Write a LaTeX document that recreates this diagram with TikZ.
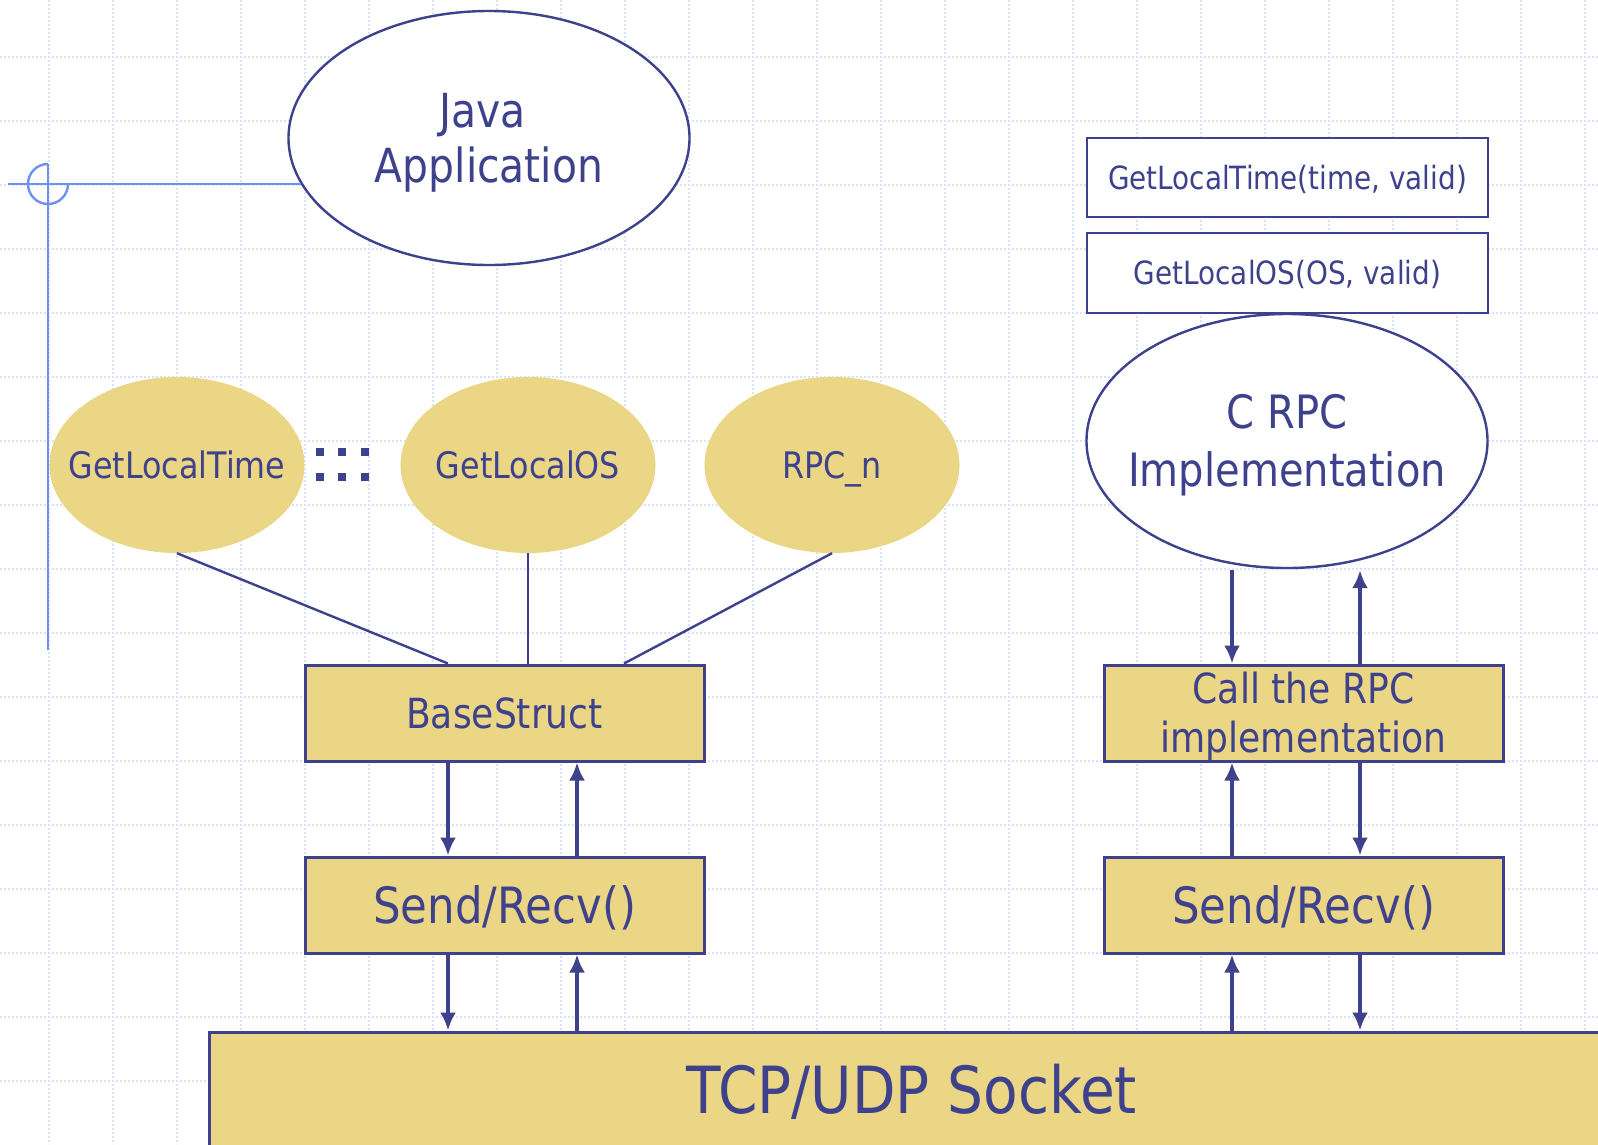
\documentclass[tikz,border=0pt]{standalone}
\usepackage{fontspec}
\setmainfont{DejaVu Sans}[FakeStretch=0.87]
\usetikzlibrary{shapes.geometric,arrows.meta}

\definecolor{ink}{RGB}{62,66,140}
\definecolor{sand}{RGB}{234,214,132}
\definecolor{gridblue}{RGB}{216,226,252}
\definecolor{guide}{RGB}{112,144,240}

\tikzset{
  gridline/.style={draw=gridblue, line width=2pt, dash pattern=on 2pt off 2pt},
  % font size, baseline skip and height above the last baseline
  ts/.style n args={3}{font=\fontsize{#1}{#2}\selectfont, text height=#3},
  txt/.style={text=ink, text depth=0pt, align=center, inner sep=0pt},
  whiteoval/.style={ellipse, draw=ink, line width=2.4pt, fill=white,
                    minimum width=401pt, minimum height=254pt, inner sep=0pt},
  sandoval/.style={ellipse, fill=sand, minimum width=255pt, minimum height=176pt, inner sep=0pt},
  panel/.style={txt, rectangle, draw=ink, line width=3pt, fill=sand,
                minimum width=399pt, minimum height=96pt},
  sigbox/.style={txt, rectangle, draw=ink, line width=2.5pt, fill=white,
                 minimum width=401pt, ts={32}{38}{23.4pt}},
  link/.style={draw=ink, line width=2.4pt},
  flow/.style={draw=ink, line width=3.5pt, -{Latex[length=18pt,width=16pt]}},
  guideline/.style={draw=guide, line width=2.4pt},
}

\begin{document}
\begin{tikzpicture}[x=1pt,y=-1pt]
\useasboundingbox (0,0) rectangle (1598,1144);
\fill[white] (0,0) rectangle (1598,1144);

% background grid
\foreach \gx in {0,...,24} \draw[gridline] ({49+64*\gx},0) -- ({49+64*\gx},1144);
\foreach \gy in {0,...,16} \draw[gridline] (0,{57+64*\gy}) -- (1598,{57+64*\gy});

% client side
\node[whiteoval] (java) at (489,138) {};
\node[txt, ts={47}{55}{89.3pt}] (javaText) at (java.center)
  {Java\hspace*{13pt}\\Application};

\node[sandoval] (glt)  at (177,465) {};
\node[sandoval] (glos) at (528,465) {};
\node[sandoval] (rpcn) at (832,465) {};
\node[txt, ts={36.5}{44}{26.6pt}] (gltText)  at (glt.center)  {GetLocalTime};
\node[txt, ts={36.5}{44}{26.6pt}] (glosText) at (glos.center) {GetLocalOS};
\node[txt, ts={36.5}{44}{26.6pt}] (rpcnText) at (rpcn.center) {RPC\_n};

% ellipsis marks between the stubs
\foreach \dx in {316,338,361}
  \foreach \dy in {448,473}
    \fill[ink] (\dx,\dy) rectangle ++(8,8);

\node[panel, ts={41.5}{48}{30.3pt}] (base)  at (504.5,713) {BaseStruct};
\node[panel, ts={50}{58}{36.5pt}]   (sendL) at (504.5,905) {Send/Recv()};

% server side
\node[sigbox, minimum height=79pt] (sig1) at (1287.5,177.5) {GetLocalTime(time, valid)};
\node[sigbox, minimum height=80pt] (sig2) at (1287.5,273) {GetLocalOS(OS, valid)};
\node[whiteoval] (crpc) at (1287,441) {};
\node[txt, ts={46}{58}{91.6pt}] (crpcText) at (crpc.center)
  {C RPC\\Implementation};

\node[panel, ts={41.5}{49}{79.3pt}] (call) at (1303.5,713)
  {Call the RPC\\implementation};
\node[panel, ts={50}{58}{36.5pt}] (sendR) at (1303.5,905) {Send/Recv()};

% transport layer
\node[txt, rectangle, draw=ink, line width=3pt, fill=sand,
      minimum width=1406pt, minimum height=116pt,
      ts={65}{72}{47.4pt}] (tcp) at (912,1090) {TCP/UDP Socket};

% stubs joined to the shared structure
\draw[link] (glt.south)  -- ([xshift=-56.5pt]base.north);
\draw[link] (glos.south) -- ([xshift=23.5pt]base.north);
\draw[link] (rpcn.south) -- ([xshift=119.5pt]base.north);

% client data flow
\coordinate (lx) at ([xshift=-56.5pt]base.south);
\coordinate (ly) at ([xshift=72.5pt]base.south);
\draw[flow] (lx) -- (lx |- sendL.north);
\draw[flow] (ly |- sendL.north) -- (ly);
\draw[flow] (lx |- sendL.south) -- (lx |- tcp.north);
\draw[flow] (ly |- tcp.north) -- (ly |- sendL.south);

% server data flow
\coordinate (rx) at ([xshift=-71.5pt]call.north);
\coordinate (ry) at ([xshift=56.5pt]call.north);
\coordinate (rtop) at ([yshift=-1pt]crpc.south);
\draw[flow] (rx |- rtop) -- (rx);
\draw[flow] (ry) -- (ry |- rtop);
\draw[flow] (rx |- sendR.north) -- (rx |- call.south);
\draw[flow] (ry |- call.south) -- (ry |- sendR.north);
\draw[flow] (rx |- tcp.north) -- (rx |- sendR.south);
\draw[flow] (ry |- sendR.south) -- (ry |- tcp.north);

% guide marker
\coordinate (cross) at (48,184);
\draw[guideline] (cross) ++(-40,0) -- (cross -| java.194);
\draw[guideline] ([yshift=20pt]cross) -- ([yshift=-466pt]cross);
\draw[guideline] ([yshift=20pt]cross) arc[start angle=90, end angle=360, radius=20pt];
\end{tikzpicture}
\end{document}
